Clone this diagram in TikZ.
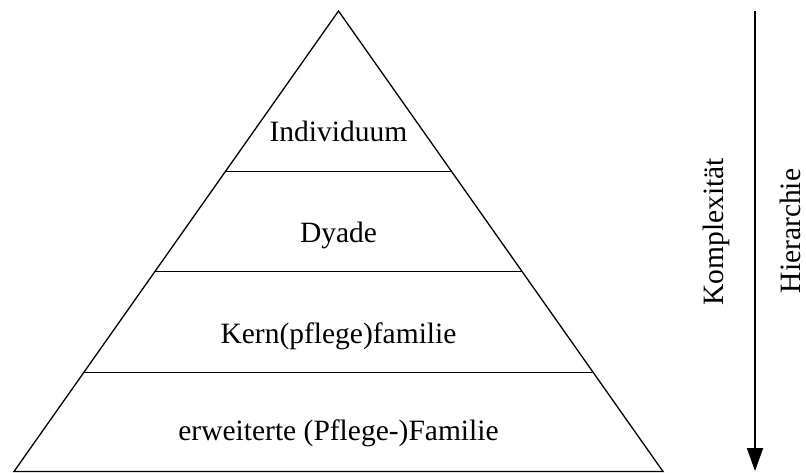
\documentclass[tikz,border=0pt]{standalone}
\usepackage{fontspec}
\setmainfont{Liberation Serif}
\usetikzlibrary{arrows.meta,calc}
\begin{document}
\begin{tikzpicture}[x=1pt,y=-1pt,
  lbl/.style={font=\fontsize{29.5}{32}\selectfont, inner sep=0pt, anchor=base},
  edge/.style={line width=1.3pt, line join=miter},
  levelline/.style={line width=1.3pt},
  axisarrow/.style={line width=2pt, -{Triangle[width=16pt,length=23pt]}}]
\useasboundingbox (0,0) rectangle (806,473);
\coordinate (A) at (338.5,11);
\coordinate (BL) at (14,471.5);
\coordinate (BR) at (663,471.5);
\draw[edge] (BL) -- (A) -- (BR) -- cycle;
\coordinate (L1) at ($(A)!0.3491!(BL)$);
\coordinate (R1) at ($(A)!0.3491!(BR)$);
\coordinate (L2) at ($(A)!0.5657!(BL)$);
\coordinate (R2) at ($(A)!0.5657!(BR)$);
\coordinate (L3) at ($(A)!0.7855!(BL)$);
\coordinate (R3) at ($(A)!0.7855!(BR)$);
\draw[levelline] (L1) -- (R1);
\draw[levelline] (L2) -- (R2);
\draw[levelline] (L3) -- (R3);
\node[lbl] (t1) at (338.5,141.7) {Individuum};
\node[lbl] (t2) at (338.5,242.3) {Dyade};
\node[lbl] (t3) at (338.5,343) {Kern(pflege)familie};
\node[lbl] (t4) at (338.5,440) {erweiterte (Pflege-)Familie};
\coordinate (ArT) at (755,11);
\coordinate (ArB) at (755,471);
\draw[axisarrow] (ArT) -- (ArB);
\node[lbl, rotate=90] (k) at (723,232) {Komplexität};
\node[lbl, rotate=90] (h) at (800,231) {Hierarchie};
\end{tikzpicture}
\end{document}
